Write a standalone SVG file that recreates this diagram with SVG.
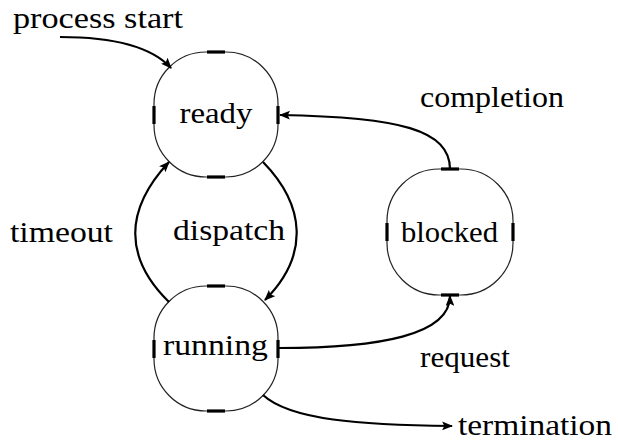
<svg xmlns="http://www.w3.org/2000/svg" width="618" height="441" viewBox="0 0 618 441">
<style>
  .node { fill: none; stroke: #222; stroke-width: 1.2; }
  .port { stroke: #000; stroke-width: 3.2; }
  .edge { fill: none; stroke: #000; stroke-width: 2.2; }
  text { font-family: "Liberation Serif", "DejaVu Serif", serif; font-size: 29px; fill: #000; }
</style>
<defs>
  <marker id="arr" viewBox="0 0 10 8" refX="9" refY="4" markerWidth="5" markerHeight="4" orient="auto" markerUnits="strokeWidth">
    <path d="M0,0 L10,4 L0,8 L2,4 Z" fill="#000"/>
  </marker>
</defs>
<rect width="618" height="441" fill="#fff"/>
<g id="ready">
  <rect class="node" x="154" y="52" width="124" height="125" rx="52" ry="52"/>
  <line class="port" x1="154" y1="106" x2="154" y2="124"/>
  <line class="port" x1="278" y1="106" x2="278" y2="124"/>
  <line class="port" x1="207" y1="52" x2="225" y2="52"/>
  <line class="port" x1="207" y1="177" x2="225" y2="177"/>
  <text x="216" y="123" text-anchor="middle" textLength="73" lengthAdjust="spacingAndGlyphs">ready</text>
</g>
<g id="blocked">
  <rect class="node" x="387" y="169" width="126" height="126" rx="52" ry="52"/>
  <line class="port" x1="387" y1="223" x2="387" y2="241"/>
  <line class="port" x1="513" y1="223" x2="513" y2="241"/>
  <line class="port" x1="441" y1="169" x2="459" y2="169"/>
  <line class="port" x1="441" y1="295" x2="459" y2="295"/>
  <text x="449.5" y="242" text-anchor="middle" textLength="97" lengthAdjust="spacingAndGlyphs">blocked</text>
</g>
<g id="running">
  <rect class="node" x="154" y="286" width="124" height="125" rx="52" ry="52"/>
  <line class="port" x1="154" y1="340" x2="154" y2="358"/>
  <line class="port" x1="278" y1="340" x2="278" y2="358"/>
  <line class="port" x1="207" y1="286" x2="225" y2="286"/>
  <line class="port" x1="207" y1="411" x2="225" y2="411"/>
  <text x="215.5" y="355" text-anchor="middle" textLength="105" lengthAdjust="spacingAndGlyphs">running</text>
</g>
<g id="connectors">
  <path class="edge" d="M60,37 C110,37 150,45 171,68" marker-end="url(#arr)"/>
  <path class="edge" d="M263,162 C305,205 310,255 265,300" marker-end="url(#arr)"/>
  <path class="edge" d="M169,302 C124,258 124,210 169,162" marker-end="url(#arr)"/>
  <path class="edge" d="M450,169 C450,130 400,117 280,115" marker-end="url(#arr)"/>
  <path class="edge" d="M279,348 C380,348 450,335 450,296" marker-end="url(#arr)"/>
  <path class="edge" d="M263,395 C290,420 360,425 452,426" marker-end="url(#arr)"/>
</g>
<g id="labels">
  <text x="13" y="28" textLength="170" lengthAdjust="spacingAndGlyphs">process start</text>
  <text x="420" y="107" textLength="144" lengthAdjust="spacingAndGlyphs">completion</text>
  <text x="10" y="242" textLength="103" lengthAdjust="spacingAndGlyphs">timeout</text>
  <text x="173" y="240" textLength="112" lengthAdjust="spacingAndGlyphs">dispatch</text>
  <text x="420" y="367" textLength="90" lengthAdjust="spacingAndGlyphs">request</text>
  <text x="458" y="435" textLength="154" lengthAdjust="spacingAndGlyphs">termination</text>
</g>
</svg>
